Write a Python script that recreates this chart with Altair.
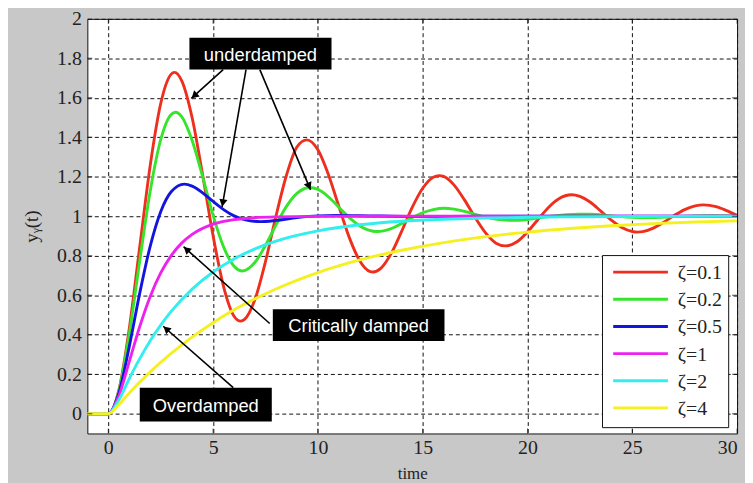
import math
import altair as alt
import pandas as pd

# ---------------- data ----------------
series_names = ["ζ=0.1", "ζ=0.2", "ζ=0.5", "ζ=1", "ζ=2", "ζ=4"]
series_colors = ["#ee2f1e", "#36e42c", "#1414e0", "#ee22ee", "#32eeee", "#f5f020"]

t_z01 = [-1, 0, 0.5, 1, 1.5, 2, 2.5, 3, 3.16, 3.5, 4, 4.5, 5, 5.5, 6, 6.32, 6.5, 7, 7.5, 8, 8.5, 9, 9.47,
         10, 10.5, 11, 11.5, 12, 12.5, 12.63, 13, 13.5, 14, 14.5, 15, 15.5, 15.79, 16, 16.5, 17, 17.5, 18,
         18.5, 18.95, 19.5, 20, 20.5, 21, 21.5, 22.1, 22.5, 23, 23.5, 24, 24.5, 25, 25.26, 25.5, 26, 26.5,
         27, 27.5, 28, 28.4, 29, 29.5, 30]
y_z01 = [0, 0, 0.118, 0.431, 0.846, 1.258, 1.571, 1.720, 1.729, 1.687, 1.499, 1.210, 0.901, 0.644, 0.494,
         0.469, 0.478, 0.580, 0.771, 1.001, 1.208, 1.351, 1.387, 1.337, 1.212, 1.050, 0.892, 0.774, 0.720,
         0.718, 0.736, 0.812, 0.925, 1.045, 1.142, 1.198, 1.206, 1.202, 1.158, 1.082, 0.994, 0.916, 0.864,
         0.850, 0.871, 0.921, 0.984, 1.045, 1.089, 1.109, 1.101, 1.071, 1.026, 0.980, 0.943, 0.923, 0.920,
         0.922, 0.940, 0.970, 1.004, 1.034, 1.053, 1.058, 1.049, 1.029, 1.005]

t_z02 = [-1, 0, 0.5, 1, 1.5, 2, 2.5, 3, 3.21, 3.5, 4, 4.5, 5, 5.5, 6, 6.41, 7, 7.5, 8, 8.5, 9, 9.62, 10,
         10.5, 11, 11.5, 12, 12.83, 13.5, 14, 14.5, 15, 15.5, 16.03, 16.5, 17, 18, 19.24, 20, 21, 22.44,
         23, 24, 25, 25.65, 27, 28, 28.86, 30]
y_z02 = [0, 0, 0.115, 0.405, 0.775, 1.128, 1.388, 1.516, 1.527, 1.505, 1.384, 1.201, 1.005, 0.845, 0.747,
         0.723, 0.767, 0.853, 0.955, 1.050, 1.116, 1.146, 1.136, 1.099, 1.046, 0.993, 0.951, 0.923, 0.938,
         0.964, 0.993, 1.018, 1.034, 1.041, 1.036, 1.025, 0.996, 0.979, 0.984, 0.999, 1.011, 1.010, 1.002,
         0.995, 0.994, 0.998, 1.002, 1.003, 1.001]

t_z05 = [-1, 0, 0.5, 1, 1.5, 2, 2.5, 3, 3.63, 4, 4.5, 5, 5.5, 6, 6.5, 7.26, 8, 9, 10, 10.88, 12, 14.51, 18, 30]
y_z05 = [0, 0, 0.104, 0.340, 0.611, 0.849, 1.023, 1.124, 1.163, 1.153, 1.119, 1.075, 1.034, 1.002, 0.983,
         0.973, 0.979, 0.993, 1.002, 1.004, 1.003, 0.999, 1.0, 1.0]

t_z1 = [-1, 0, 0.5, 1, 1.5, 2, 2.5, 3, 3.5, 4, 5, 6, 7, 8, 10, 12, 30]
y_z1 = [0, 0, 0.090, 0.264, 0.442, 0.594, 0.713, 0.801, 0.864, 0.908, 0.960, 0.983, 0.993, 0.997, 0.9995,
        1.0, 1.0]

t_z2 = [-1, 0, 0.5, 1, 1.5, 2, 2.5, 3, 4, 5, 6, 7, 8, 9, 10, 12, 14, 16, 18, 20, 22, 25, 30]
y_z2 = [0, 0, 0.070, 0.178, 0.279, 0.370, 0.449, 0.518, 0.631, 0.718, 0.784, 0.835, 0.874, 0.903, 0.926,
        0.957, 0.975, 0.985, 0.991, 0.995, 0.997, 0.9987, 0.9997]

t_z4 = [-1, 0, 0.5, 1, 2, 3, 4, 5, 6, 7, 8, 10, 12, 14, 16, 18, 20, 22, 24, 26, 28, 30]
y_z4 = [0, 0, 0.046, 0.105, 0.212, 0.306, 0.388, 0.461, 0.526, 0.582, 0.632, 0.715, 0.779, 0.828, 0.867,
        0.897, 0.920, 0.938, 0.952, 0.963, 0.971, 0.977]

x_ticks = [0, 5, 10, 15, 20, 25, 30]
y_ticks = [0, 0.2, 0.4, 0.6, 0.8, 1, 1.2, 1.4, 1.6, 1.8, 2]

# annotations (data coordinates)
label_texts = ["underdamped", "Critically damped", "Overdamped"]
label_box_x1 = [3.87, 7.85, 1.50]
label_box_x2 = [10.65, 16.04, 7.80]
label_box_y1 = [1.743, 0.368, -0.040]
label_box_y2 = [1.904, 0.529, 0.131]

arrow_x_start = [5.48, 6.57, 7.23, 7.70, 5.96]
arrow_y_start = [1.743, 1.743, 1.743, 0.457, 0.132]
arrow_x_tip = [3.96, 5.43, 9.65, 3.59, 2.62]
arrow_y_tip = [1.597, 1.048, 1.134, 0.846, 0.443]

# ---------------- layout ----------------
W, H = 655, 418
X_DOM = [-1, 30]
Y_DOM = [-0.1, 2]
sx = W / (X_DOM[1] - X_DOM[0])
sy = H / (Y_DOM[1] - Y_DOM[0])

xs = alt.Scale(domain=X_DOM, nice=False, zero=False)
ys = alt.Scale(domain=Y_DOM, nice=False, zero=False)

SERIF = "Liberation Serif"
SANS = "Liberation Sans"

x_axis = alt.Axis(values=x_ticks, title="time", grid=True, gridDash=[4, 3], gridColor="#111",
                  gridWidth=1, ticks=False, domain=False, format="~g",
                  labelFont=SERIF, labelFontSize=20, labelColor="#222", labelPadding=4,
                  titleFont=SERIF, titleFontSize=17, titleFontWeight="normal", titleColor="#222",
                  titlePadding=8)
y_axis = alt.Axis(values=y_ticks, title="yᵧ(t)", grid=True, gridDash=[4, 3], gridColor="#111",
                  gridWidth=1, ticks=False, domain=False, format="~g",
                  labelFont=SERIF, labelFontSize=20, labelColor="#222", labelPadding=6,
                  titleFont=SERIF, titleFontSize=19, titleFontWeight="normal", titleColor="#222",
                  titlePadding=15)


def X(field):
    return alt.X(field, scale=xs, axis=x_axis)


def Y(field):
    return alt.Y(field, scale=ys, axis=y_axis)


series_t = [t_z01, t_z02, t_z05, t_z1, t_z2, t_z4]
series_y = [y_z01, y_z02, y_z05, y_z1, y_z2, y_z4]

layers = []
for name, col, ts, yv in zip(series_names, series_colors, series_t, series_y):
    df = pd.DataFrame({"t": ts, "y": yv, "s": name})
    layers.append(
        alt.Chart(df).mark_line(color=col, strokeWidth=2.9, interpolate="monotone", clip=True)
        .encode(x=X("t:Q"), y=Y("y:Q"))
    )

# inward ticks on all four sides
tick_bottom = pd.DataFrame({"t": x_ticks, "y": [Y_DOM[0]] * len(x_ticks)})
tick_top = pd.DataFrame({"t": x_ticks, "y": [Y_DOM[1]] * len(x_ticks)})
tick_left = pd.DataFrame({"t": [X_DOM[0]] * len(y_ticks), "y": y_ticks})
tick_right = pd.DataFrame({"t": [X_DOM[1]] * len(y_ticks), "y": y_ticks})
for dft in (tick_bottom, tick_top):
    layers.append(alt.Chart(dft).mark_tick(orient="vertical", size=10, thickness=1, color="#111", clip=True)
                  .encode(x=X("t:Q"), y=Y("y:Q")))
for dft in (tick_left, tick_right):
    layers.append(alt.Chart(dft).mark_tick(orient="horizontal", size=10, thickness=1, color="#111", clip=True)
                  .encode(x=X("t:Q"), y=Y("y:Q")))

# legend (manual, inside plot)
leg_x1, leg_x2, leg_y1, leg_y2 = 23.58, 29.60, -0.0705, 0.801
leg_row0, leg_dy = 0.717, 0.1375
leg_sym_x1, leg_sym_x2, leg_lab_x = 24.09, 26.70, 27.17
legbox = pd.DataFrame({"t": [leg_x1], "t2": [leg_x2], "y": [leg_y1], "y2": [leg_y2]})
layers.append(alt.Chart(legbox).mark_rect(fill="white", stroke="#111", strokeWidth=1)
              .encode(x=X("t:Q"), x2="t2:Q", y=Y("y:Q"), y2="y2:Q"))
legrows = pd.DataFrame({
    "s": series_names,
    "t": [leg_sym_x1] * 6, "t2": [leg_sym_x2] * 6, "tl": [leg_lab_x] * 6,
    "y": [leg_row0 - i * leg_dy for i in range(6)],
})
layers.append(alt.Chart(legrows).mark_rule(strokeWidth=2.9)
              .encode(x=X("t:Q"), x2="t2:Q", y=Y("y:Q"),
                      color=alt.Color("s:N", scale=alt.Scale(domain=series_names, range=series_colors),
                                      legend=None)))
layers.append(alt.Chart(legrows).mark_text(font=SERIF, fontSize=20, align="left", baseline="middle",
                                           color="#222", dy=1)
              .encode(x=X("tl:Q"), y=Y("y:Q"), text="s:N"))

# annotation boxes and labels
boxes = pd.DataFrame({
    "label": label_texts, "t": label_box_x1, "t2": label_box_x2,
    "y": label_box_y1, "y2": label_box_y2,
})
boxes["tc"] = (boxes["t"] + boxes["t2"]) / 2
boxes["yc"] = (boxes["y"] + boxes["y2"]) / 2
layers.append(alt.Chart(boxes).mark_rect(fill="black")
              .encode(x=X("t:Q"), x2="t2:Q", y=Y("y:Q"), y2="y2:Q"))
layers.append(alt.Chart(boxes).mark_text(font=SANS, fontSize=18.5, color="white", align="center",
                                         baseline="middle", dy=1)
              .encode(x=X("tc:Q"), y=Y("yc:Q"), text="label:N"))

# arrows
head_x, head_y, head_ang = [], [], []
for xs0, ys0, xt, yt in zip(arrow_x_start, arrow_y_start, arrow_x_tip, arrow_y_tip):
    dxp = (xt - xs0) * sx
    dyp = (yt - ys0) * sy
    L = math.hypot(dxp, dyp)
    back = 4.0
    head_x.append(xt - back * dxp / L / sx)
    head_y.append(yt - back * dyp / L / sy)
    head_ang.append(math.degrees(math.atan2(dxp, dyp)) % 360)
arrows = pd.DataFrame({"t": arrow_x_start, "y": arrow_y_start, "t2": arrow_x_tip, "y2": arrow_y_tip,
                       "th": head_x, "yh": head_y, "ang": head_ang})
layers.append(alt.Chart(arrows).mark_rule(color="black", strokeWidth=1.6)
              .encode(x=X("t:Q"), x2="t2:Q", y=Y("y:Q"), y2="y2:Q"))
layers.append(alt.Chart(arrows).mark_point(shape="triangle-up", filled=True, color="black", size=70, opacity=1)
              .encode(x=X("th:Q"), y=Y("yh:Q"), angle=alt.Angle("ang:Q", scale=None)))

chart = (
    alt.layer(*layers)
    .properties(width=W, height=H, background="#c8c8c8",
                padding={"left": 80, "top": 9, "right": 8, "bottom": 48},
                autosize=alt.AutoSizeParams(type="none"))
    .configure_view(stroke="#111", strokeWidth=1, fill="white")
)

chart.save("out.html", embed_options={"renderer": "svg", "actions": False})
